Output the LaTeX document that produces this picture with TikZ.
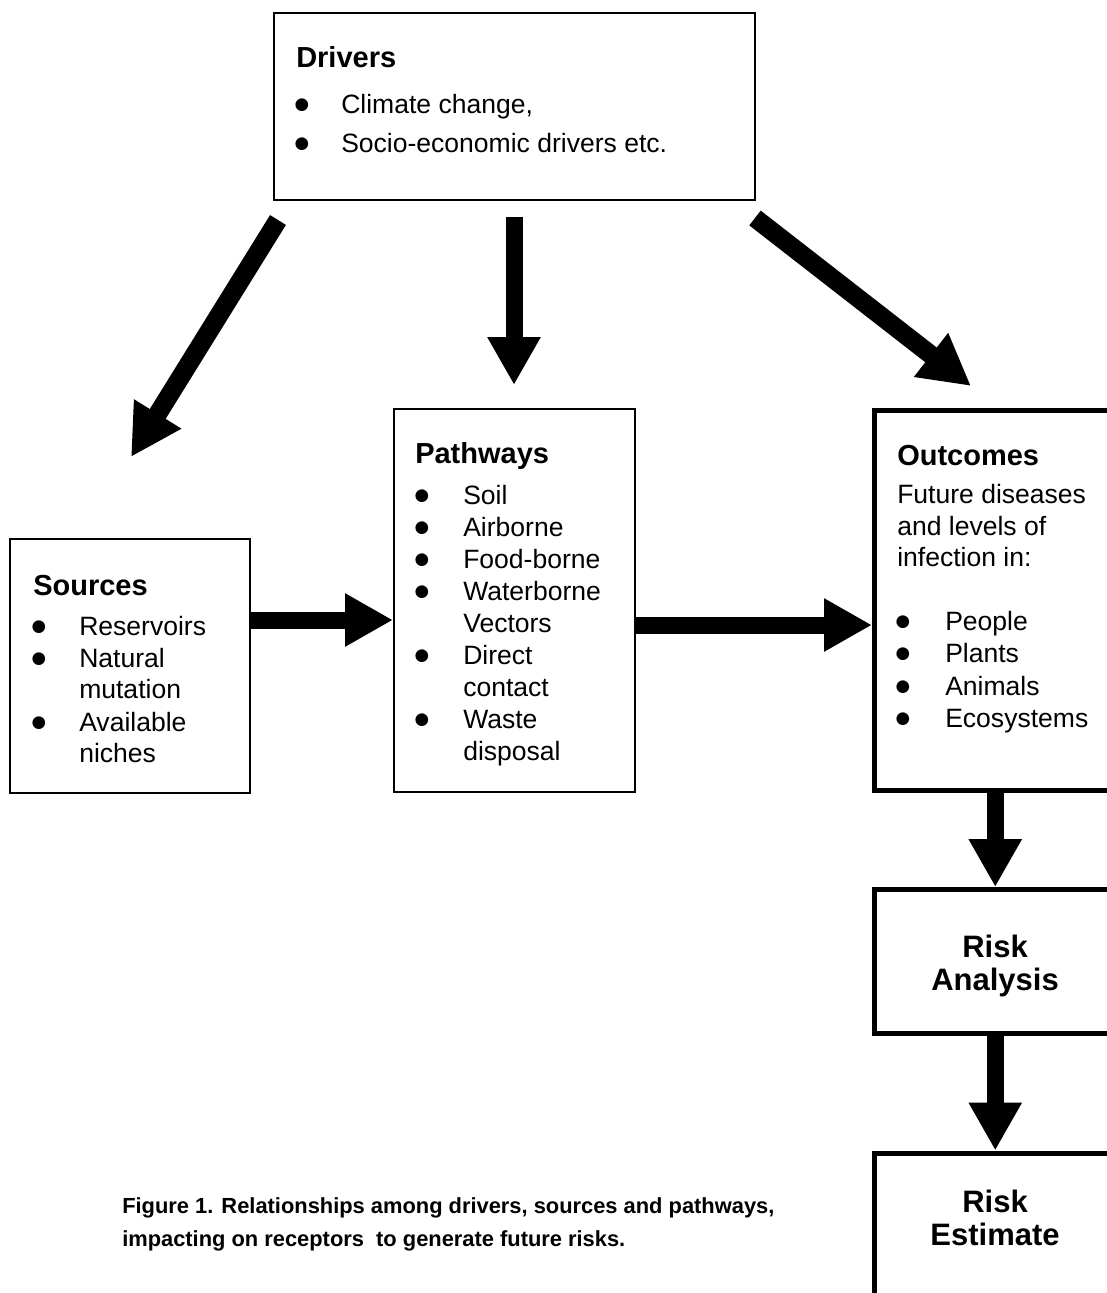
\documentclass[tikz,border=0pt]{standalone}
\usepackage{fontspec}
\setmainfont{Liberation Sans}
\newfontfamily\dvsans{DejaVu Sans}
\usetikzlibrary{arrows.meta}
\begin{document}
\begin{tikzpicture}[x=0.75pt,y=-0.75pt,
  bx/.style 2 args={rectangle,inner sep=0pt,minimum width=#1*0.75pt,minimum height=#2*0.75pt},
  thinbox/.style={draw,line width=1.5pt},
  thickbox/.style={draw,line width=3.75pt},
  ttl/.style={anchor=base west,inner sep=0pt,font=\fontsize{21.75pt}{26pt}\selectfont\bfseries},
  itm/.style={anchor=base west,inner sep=0pt,font=\fontsize{19.9pt}{24pt}\selectfont},
  bul/.style={anchor=base,inner sep=0pt,yshift=3pt,font=\dvsans\fontsize{12.5pt}{14pt}\selectfont},
  big/.style={anchor=base,inner sep=0pt,font=\fontsize{23.25pt}{28pt}\selectfont\bfseries},
  capt/.style={anchor=base west,inner sep=0pt,font=\fontsize{16.4pt}{20pt}\selectfont\bfseries},
  blk/.style={line width=12.75pt,-{Triangle[length=36pt,width=37.5pt]}},
  blkd/.style={line width=14pt,-{Triangle[length=38pt,width=39pt]}},
]
\useasboundingbox (0,0) rectangle (1107,1293);
\fill[white] (0,0) rectangle (1107,1293);
\clip (0,0) rectangle (1107,1293);

% boxes
\node[bx={481}{187},thinbox] (drivers) at (514.5,106.5) {};
\node[bx={240}{254},thinbox] (sources) at (130,666) {};
\node[bx={241}{383},thinbox] (pathways) at (514.5,600.5) {};
\node[bx={241.5}{380},thickbox] (outcomes) at (995.25,600) {};
\node[bx={241.5}{143.5},thickbox] (riskA) at (995.25,961.25) {};
\node[bx={241.5}{177},thickbox] (riskE) at (995.25,1241.5) {};

% Drivers text
\node[ttl] (dT) at (296,67) {Drivers};
\node[bul] (db1) at (302,113) {●};
\node[itm] (d1) at (341,113) {Climate change,};
\node[bul] (db2) at (302,152) {●};
\node[itm] (d2) at (341,152) {Socio-economic drivers etc.};

% Sources text
\node[ttl] (sT) at (33,595) {Sources};
\node[bul] (sb1) at (39,635) {●};
\node[itm] (s1) at (79,635) {Reservoirs};
\node[bul] (sb2) at (39,667) {●};
\node[itm] (s2) at (79,667) {Natural};
\node[itm] (s3) at (79,698) {mutation};
\node[bul] (sb3) at (39,731) {●};
\node[itm] (s4) at (79,731) {Available};
\node[itm] (s5) at (79,762) {niches};

% Pathways text
\node[ttl] (pT) at (415,463) {Pathways};
\node[bul] (pb1) at (422,504) {●};
\node[itm] (p1) at (463,504) {Soil};
\node[bul] (pb2) at (422,536) {●};
\node[itm] (p2) at (463,536) {Airborne};
\node[bul] (pb3) at (422,568) {●};
\node[itm] (p3) at (463,568) {Food-borne};
\node[bul] (pb4) at (422,600) {●};
\node[itm] (p4) at (463,600) {Waterborne};
\node[itm] (p5) at (463,632) {Vectors};
\node[bul] (pb5) at (422,664) {●};
\node[itm] (p6) at (463,664) {Direct};
\node[itm] (p7) at (463,696) {contact};
\node[bul] (pb6) at (422,728) {●};
\node[itm] (p8) at (463,728) {Waste};
\node[itm] (p9) at (463,760) {disposal};

% Outcomes text
\node[ttl] (oT) at (897,465) {Outcomes};
\node[itm] (o1) at (897,503) {Future diseases};
\node[itm] (o2) at (897,535) {and levels of};
\node[itm] (o3) at (897,566) {infection in:};
\node[bul] (ob1) at (903,630) {●};
\node[itm] (o4) at (945,630) {People};
\node[bul] (ob2) at (903,662) {●};
\node[itm] (o5) at (945,662) {Plants};
\node[bul] (ob3) at (903,695) {●};
\node[itm] (o6) at (945,695) {Animals};
\node[bul] (ob4) at (903,727) {●};
\node[itm] (o7) at (945,727) {Ecosystems};

% Risk texts
\node[big] (ra1) at (995,957) {Risk};
\node[big] (ra2) at (995,990) {Analysis};
\node[big] (re1) at (995,1212) {Risk};
\node[big] (re2) at (995,1245) {Estimate};

% caption
\node[capt] (c1) at (122,1213) {Figure 1. Relationships among drivers, sources and pathways,};
\node[capt] (c2) at (122,1246) {impacting on receptors\ \ to generate future risks.};

% connectors
\coordinate (L0) at (278,220);
\coordinate (L1) at (131,457);
\coordinate (M0) at (514,217);
\coordinate (M1) at (514,385);
\coordinate (R0) at (755,218);
\coordinate (R1) at (971,386);
\coordinate (ysp) at (0,620);
\coordinate (ypo) at (0,625);
\draw[blkd] (L0) -- (L1);
\draw[blk] (M0) -- (M1);
\draw[blkd] (R0) -- (R1);
\draw[blk] (sources.east |- ysp) -- (pathways.west |- ysp);
\draw[blk] (pathways.east |- ypo) -- (outcomes.west |- ypo);
\draw[blk] (outcomes.south) -- (riskA.north);
\draw[blk] (riskA.south) -- (riskE.north);
\end{tikzpicture}
\end{document}
